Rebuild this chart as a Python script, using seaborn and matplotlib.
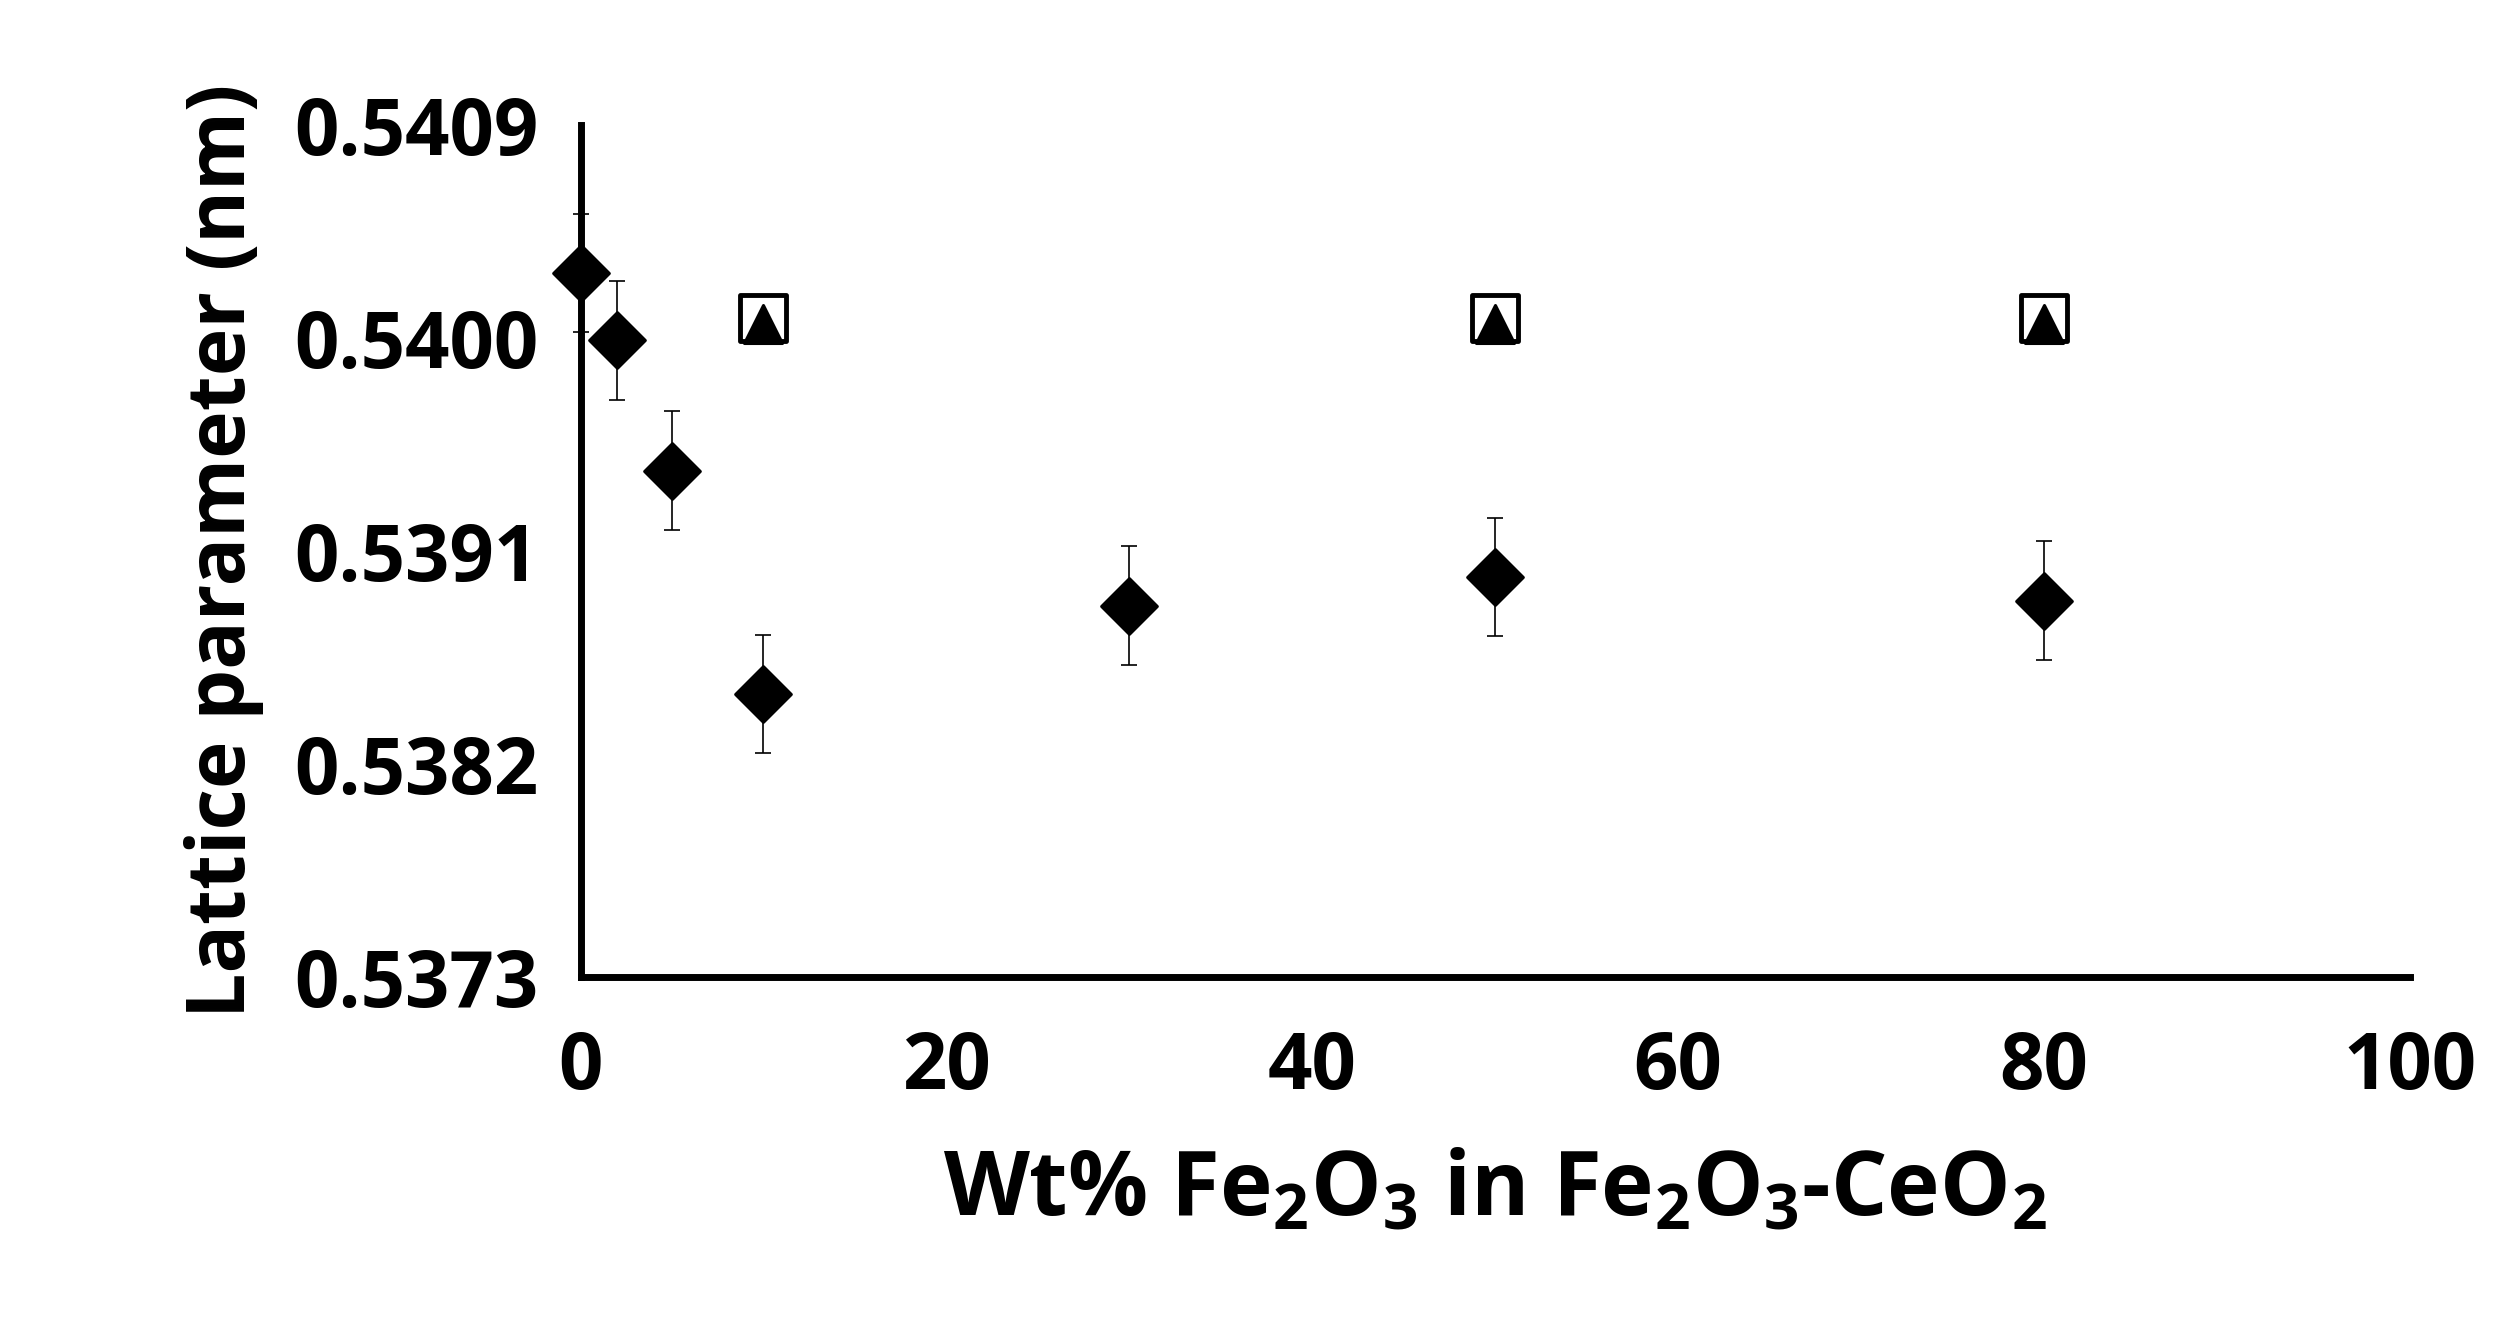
import matplotlib
matplotlib.use("Agg")
import matplotlib.pyplot as plt
import seaborn as sns

x_d = [0, 2, 5, 10, 30, 50, 80]
y_d = [0.540275, 0.539990, 0.539440, 0.538496, 0.538869, 0.538991, 0.538890]
err_d = [0.00025, 0.00025, 0.00025, 0.00025, 0.00025, 0.00025, 0.00025]
x_s = [10, 50, 80]
y_s = [0.540085, 0.540085, 0.540085]
err_s = [0.00002, 0.00002, 0.00002]
y_t = [0.540060, 0.540060, 0.540060]
yticks = [0.5373, 0.5382, 0.5391, 0.5400, 0.5409]
xticks = [0, 20, 40, 60, 80, 100]

sns.set_style("white")
plt.rcParams['font.family'] = ['Open Sans', 'DejaVu Sans']
plt.rcParams['mathtext.fontset'] = 'custom'
plt.rcParams['mathtext.bf'] = 'Open Sans:bold'
plt.rcParams['mathtext.rm'] = 'Open Sans:bold'
plt.rcParams['text.color'] = 'black'
plt.rcParams['axes.labelcolor'] = 'black'
plt.rcParams['xtick.color'] = 'black'
plt.rcParams['ytick.color'] = 'black'

fig = plt.figure(figsize=(25.13, 13.18), dpi=100)
ax = fig.add_axes([0.231, 0.259, 0.728, 0.646])

ax.errorbar(x_d, y_d, yerr=err_d, fmt='none', ecolor='black', elinewidth=1.2, capsize=6, capthick=1.2, zorder=2, clip_on=False)
ax.errorbar(x_s, y_s, yerr=err_s, fmt='none', ecolor='black', elinewidth=1.2, capsize=6, capthick=1.2, zorder=2)
sns.scatterplot(x=x_s, y=y_s, marker='s', s=1100, facecolor='white', edgecolor='black', linewidth=3.5, ax=ax, zorder=3)
sns.scatterplot(x=x_s, y=y_t, marker='^', s=750, color='black', edgecolor='black', ax=ax, zorder=4)
sns.scatterplot(x=x_d, y=y_d, marker='D', s=800, color='black', edgecolor='black', ax=ax, zorder=5, clip_on=False)

ax.set_xlim(0, 100)
ax.set_ylim(0.5373, 0.5409)
ax.set_xticks(xticks)
ax.set_yticks(yticks)
ax.set_yticklabels([f"{v:.4f}" for v in yticks])
for s in ['top', 'right']:
    ax.spines[s].set_visible(False)
for s in ['left', 'bottom']:
    ax.spines[s].set_linewidth(5)
    ax.spines[s].set_color('black')
ax.tick_params(axis='y', direction='out', length=18, width=5, labelsize=56, pad=12)
ax.tick_params(axis='x', direction='out', length=18, width=5, labelsize=56, pad=20)
for lab in ax.get_xticklabels() + ax.get_yticklabels():
    lab.set_fontweight('bold')
ax.set_ylabel("Lattice parameter (nm)", fontsize=58, fontweight='bold', labelpad=22)
ax.set_xlabel(r"Wt% Fe$_\mathbf{2}$O$_\mathbf{3}$ in Fe$_\mathbf{2}$O$_\mathbf{3}$-CeO$_\mathbf{2}$", fontsize=64, fontweight='bold', labelpad=28)

fig.savefig("out.png", dpi=100)
